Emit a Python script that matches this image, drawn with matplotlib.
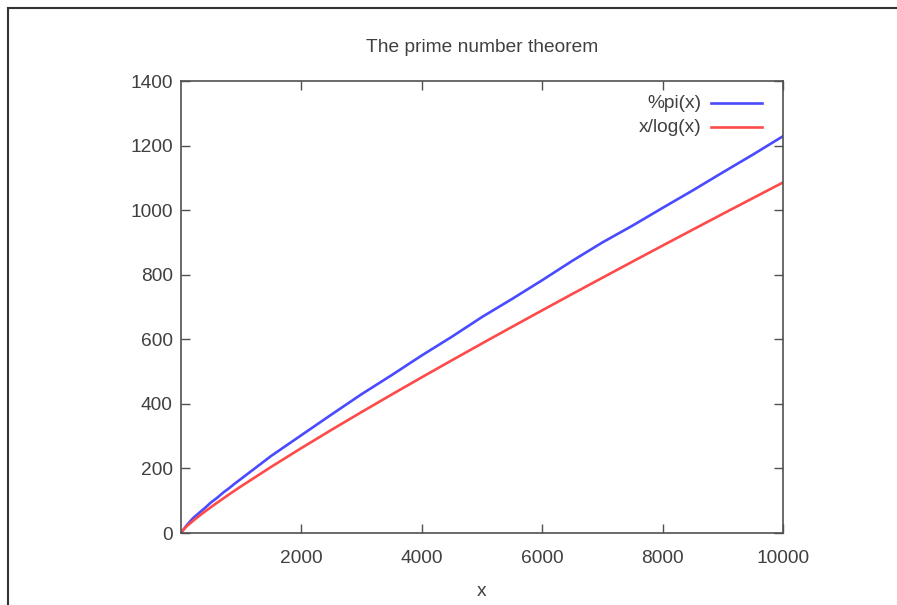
import matplotlib
matplotlib.use('Agg')
import matplotlib.pyplot as plt
from matplotlib.lines import Line2D

plt.rcParams['font.family'] = ['Liberation Sans', 'DejaVu Sans']

# values (prime counting function and x/log(x))
x_vals = [2, 100, 200, 300, 400, 500, 600, 700, 800, 900, 1000, 1500, 2000, 2500,
          3000, 3500, 4000, 4500, 5000, 5500, 6000, 6500, 7000, 7500, 8000,
          8500, 9000, 9500, 10000]
pi_vals = [1, 25, 46, 62, 78, 95, 109, 125, 139, 154, 168, 239, 303, 367,
           430, 489, 550, 608, 669, 725, 783, 843, 900, 952, 1007,
           1061, 1117, 1172, 1229]
xlog_vals = [2.9, 21.7, 37.7, 52.6, 66.8, 80.5, 93.8, 106.8, 119.7, 132.3, 144.8, 205.1, 263.1, 319.5,
             374.7, 428.9, 482.3, 535.0, 587.1, 638.6, 689.7, 740.4, 790.6, 840.6, 890.2,
             939.5, 988.5, 1037.2, 1085.7]
x_ticks = [2000, 4000, 6000, 8000, 10000]
y_ticks = [0, 200, 400, 600, 800, 1000, 1200, 1400]
series_names = ['%pi(x)', 'x/log(x)']
series_colors = ['#4a4aff', '#ff4a4a']

W, H = 897, 605
fig = plt.figure(figsize=(W/100, H/100), dpi=100)
ax = fig.add_axes([181/W, 1-533/H, (783-181)/W, (533-81)/H])

txt = '#404040'
fs = 13.8
ax.plot(x_vals, pi_vals, color=series_colors[0], lw=1.9)
ax.plot(x_vals, xlog_vals, color=series_colors[1], lw=1.9)
ax.set_xlim(0, 10000)
ax.set_ylim(0, 1400)
ax.set_xticks(x_ticks)
ax.set_yticks(y_ticks)
ax.tick_params(direction='in', length=6.5, width=1, color='#505050',
               top=True, right=True, labelsize=fs, labelcolor=txt)
ax.tick_params(axis='x', pad=12)
ax.tick_params(axis='y', pad=6)
for s in ax.spines.values():
    s.set_color('#505050')
    s.set_linewidth(1.2)

ax.set_title('The prime number theorem', fontsize=fs, color=txt, pad=21)
ax.set_xlabel('x', fontsize=fs, color=txt, labelpad=12)

# gnuplot style key: text right aligned, sample line on the right
for i, (name, c) in enumerate(zip(series_names, series_colors)):
    yy = 0.951 - i*0.053
    ax.text(0.865, yy, name, transform=ax.transAxes, ha='right', va='center',
            fontsize=fs, color=txt)
    ax.plot([0.880, 0.965], [yy, yy], transform=ax.transAxes, color=c, lw=1.9)

# outer frame (left and top edges)
fig.add_artist(Line2D([8/W, 8/W], [0, 1-8/H], color='#333333', lw=1.5))
fig.add_artist(Line2D([8/W, 1], [1-8/H, 1-8/H], color='#333333', lw=1.5))

fig.savefig('out.png', dpi=100)
